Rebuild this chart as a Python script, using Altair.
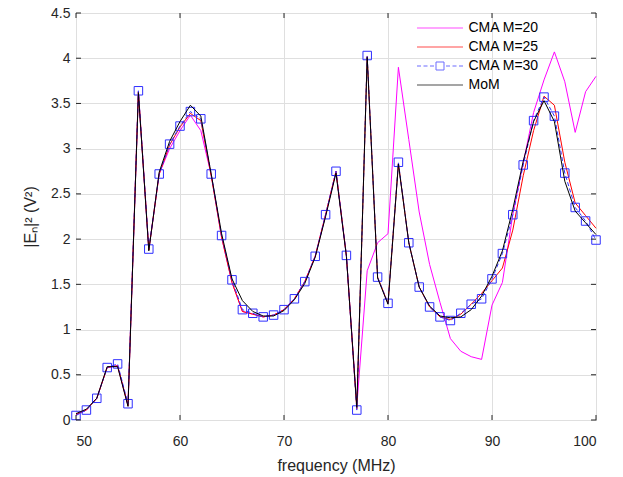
import altair as alt
import pandas as pd

freq = list(range(50, 101))

mom = [0.07, 0.12, 0.24, 0.59, 0.59, 0.15, 3.62, 1.87, 2.74, 3.08,
       3.30, 3.48, 3.36, 2.72, 2.06, 1.56, 1.32, 1.20, 1.15, 1.15,
       1.21, 1.33, 1.51, 1.80, 2.25, 2.73, 1.81, 0.14, 4.01, 1.57,
       1.28, 2.83, 1.96, 1.47, 1.26, 1.15, 1.13, 1.14, 1.22, 1.37,
       1.59, 1.87, 2.33, 2.86, 3.30, 3.53, 3.30, 2.64, 2.31, 2.18,
       2.05]

cma30 = [0.05, 0.11, 0.24, 0.58, 0.62, 0.18, 3.64, 1.89, 2.72, 3.05,
         3.25, 3.41, 3.33, 2.72, 2.04, 1.55, 1.22, 1.18, 1.14, 1.16,
         1.22, 1.34, 1.53, 1.81, 2.27, 2.75, 1.82, 0.11, 4.03, 1.58,
         1.29, 2.85, 1.96, 1.47, 1.25, 1.14, 1.10, 1.18, 1.28, 1.34,
         1.56, 1.84, 2.27, 2.82, 3.31, 3.57, 3.36, 2.73, 2.35, 2.20,
         1.99]

cma25 = [0.06, 0.11, 0.24, 0.58, 0.60, 0.16, 3.63, 1.88, 2.72, 3.04,
         3.24, 3.39, 3.31, 2.70, 2.02, 1.52, 1.20, 1.17, 1.14, 1.16,
         1.22, 1.34, 1.53, 1.81, 2.27, 2.75, 1.82, 0.12, 4.02, 1.58,
         1.29, 2.84, 1.96, 1.47, 1.25, 1.14, 1.11, 1.17, 1.28, 1.40,
         1.54, 1.68, 2.10, 2.70, 3.20, 3.58, 3.48, 2.85, 2.40, 2.26,
         2.12]

cma20 = [0.06, 0.11, 0.24, 0.58, 0.60, 0.16, 3.63, 1.88, 2.72, 3.00,
         3.20, 3.37, 3.20, 2.71, 2.02, 1.52, 1.20, 1.17, 1.14, 1.16,
         1.22, 1.34, 1.53, 1.81, 2.27, 2.75, 1.81, 0.15, 1.65, 1.96,
         2.06, 3.90, 3.10, 2.30, 1.72, 1.30, 0.90, 0.76, 0.70, 0.67,
         1.27, 1.52, 2.27, 2.84, 3.40, 3.76, 4.07, 3.74, 3.18, 3.63,
         3.80]

series_names = ["CMA M=20", "CMA M=25", "CMA M=30", "MoM"]
series_colors = ["#ff00ff", "#ff0000", "#2f2fff", "#000000"]

x_ticks = [50, 60, 70, 80, 90, 100]
y_ticks = [0, 0.5, 1, 1.5, 2, 2.5, 3, 3.5, 4, 4.5]

FONT = "Liberation Sans"
AX = "#262626"
W, H = 520, 407
X0, X1 = 50, 100
Y0, Y1 = 0, 4.5
TICK_PX = 5


def frame(vals, name):
    return pd.DataFrame({"f": freq, "v": vals, "series": name})


x_enc = alt.X("f:Q", scale=alt.Scale(domain=[X0, X1], nice=False, zero=False),
              axis=alt.Axis(values=x_ticks, labelPadding=14, titlePadding=9,
                            format=".1~f"),
              title="frequency (MHz)")
y_enc = alt.Y("v:Q", scale=alt.Scale(domain=[Y0, Y1], nice=False, zero=False),
              axis=alt.Axis(values=y_ticks, labelPadding=6, titlePadding=12,
                            format=".1~f"),
              title="|Eₙ|² (V²)")

# legend symbol paths (unit = sqrt(symbolSize)/2 px)
SYM_SIZE = 100
unit = (SYM_SIZE ** 0.5) / 2
half = 23 / unit
sq = 4 / unit
dash, gap = 4 / unit, 2.5 / unit
segs = []
s = -half
while s < -sq:
    e = min(s + dash, -sq - 0.05)
    if e > s:
        segs.append((s, e))
    s += dash + gap
path30 = ""
for a, b in segs:
    path30 += "M%.2f,0H%.2f" % (a, b)
    path30 += "M%.2f,0H%.2f" % (-b, -a)
path30 += "M%.2f,%.2fH%.2fV%.2fH%.2fZ" % (-sq, -sq, sq, sq, -sq)
path_line = "M%.2f,0H%.2f" % (-half, half)
legend_shapes = [path_line, path_line, path30, path_line]

legend = alt.Legend(
    title=None, orient="none", legendX=334, legendY=3,
    symbolSize=SYM_SIZE, symbolStrokeWidth=1, symbolOffset=18, labelOffset=21.5,
    symbolFillColor="transparent",
    labelFont=FONT, labelFontSize=14, labelColor="#000000",
    rowPadding=5, padding=5,
)

color_enc = alt.Color("series:N",
                      scale=alt.Scale(domain=series_names, range=series_colors),
                      legend=legend)
shape_enc = alt.Shape("series:N",
                      scale=alt.Scale(domain=series_names, range=legend_shapes),
                      legend=legend)

l20 = alt.Chart(frame(cma20, series_names[0])).mark_line(strokeWidth=1).encode(
    x=x_enc, y=y_enc, color=color_enc)
l25 = alt.Chart(frame(cma25, series_names[1])).mark_line(
    strokeWidth=1, color=series_colors[1]).encode(x=x_enc, y=y_enc)
l30 = alt.Chart(frame(cma30, series_names[2])).mark_line(
    strokeWidth=1, color=series_colors[2], strokeDash=[4, 2.5]).encode(x=x_enc, y=y_enc)
p30 = alt.Chart(frame(cma30, series_names[2])).mark_point(
    shape="square", filled=False, size=72, color=series_colors[2],
    strokeWidth=1, opacity=1).encode(x=x_enc, y=y_enc)
lmom = alt.Chart(frame(mom, series_names[3])).mark_line(
    strokeWidth=1, color=series_colors[3]).encode(x=x_enc, y=y_enc)

# legend-only layer (no data rows survive the filter)
leg_df = pd.DataFrame({"f": [X0] * 4, "v": [Y0] * 4, "series": series_names})
leg_layer = alt.Chart(leg_df).transform_filter(alt.datum.f < 0).mark_point(
    filled=False, strokeWidth=1).encode(
    x=x_enc, y=y_enc, color=color_enc, shape=shape_enc)

# inward ticks on all four sides
dy = TICK_PX * (Y1 - Y0) / H
dx = TICK_PX * (X1 - X0) / W
xt_df = pd.DataFrame({"f": x_ticks * 2,
                      "v": [Y0] * len(x_ticks) + [Y1] * len(x_ticks),
                      "v2": [Y0 + dy] * len(x_ticks) + [Y1 - dy] * len(x_ticks)})
yt_df = pd.DataFrame({"v": y_ticks * 2,
                      "f": [X0] * len(y_ticks) + [X1] * len(y_ticks),
                      "f2": [X0 + dx] * len(y_ticks) + [X1 - dx] * len(y_ticks)})
xticks = alt.Chart(xt_df).mark_rule(color=AX, strokeWidth=1).encode(
    x=x_enc, y=y_enc, y2="v2:Q")
yticks = alt.Chart(yt_df).mark_rule(color=AX, strokeWidth=1).encode(
    x=x_enc, x2="f2:Q", y=y_enc)

chart = alt.layer(l20, l25, l30, p30, lmom, leg_layer, xticks, yticks).properties(
    width=W, height=H, autosize="none",
    padding={"left": 68, "top": 5, "right": 10, "bottom": 56},
).configure_view(stroke=AX, strokeWidth=1).configure_axis(
    grid=True, gridColor="#dfdfdf", gridWidth=1, ticks=False, domain=False,
    labelFont=FONT, labelFontSize=14, labelColor=AX,
    titleFont=FONT, titleFontSize=16, titleColor=AX, titleFontWeight="normal",
)

chart.save("out.html", embed_options={"renderer": "svg", "actions": False})
